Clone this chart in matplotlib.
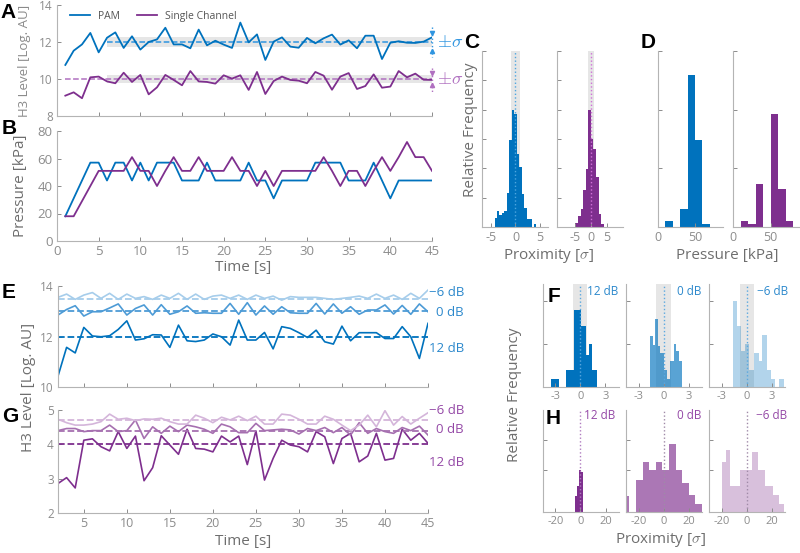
import numpy as np
import matplotlib
matplotlib.use("Agg")
import matplotlib.pyplot as plt

plt.rcParams['font.family'] = ['Open Sans', 'DejaVu Sans']
plt.rcParams['mathtext.fontset'] = 'cm'
plt.rcParams['axes.unicode_minus'] = False

BLUE = '#0072BD'
PURPLE = '#7E2F8E'
BAND = '#e6e6e6'
TICK = '#8c8c8c'
LABEL = '#6e6e6e'

# --- A/B: H3 level and pressure over time ---
t_ab = np.arange(1, 46)
pam_h3 = [10.76, 11.53, 11.87, 12.49, 11.44, 12.23, 12.52, 11.68, 12.31, 11.59,
          12.0, 12.14, 12.77, 11.87, 11.87, 11.66, 12.67, 11.82, 12.07, 11.86,
          11.68, 13.05, 11.98, 12.41, 11.03, 12.02, 12.25, 11.75, 11.69, 12.22,
          11.93, 12.2, 12.4, 11.86, 12.09, 11.66, 12.34, 12.34, 11.08, 11.96,
          12.04, 11.96, 11.95, 12.02, 12.25]
sc_h3 = [9.1, 9.28, 8.96, 10.09, 10.13, 9.87, 9.77, 10.34, 9.84, 10.22,
         9.17, 9.55, 10.22, 9.95, 9.66, 10.43, 9.87, 9.84, 9.75, 10.2,
         10.02, 10.2, 9.41, 10.38, 9.19, 9.89, 10.13, 9.95, 9.91, 9.77,
         10.38, 10.18, 9.42, 10.13, 10.32, 9.46, 9.62, 10.25, 9.53, 9.59,
         10.43, 10.09, 10.29, 9.96, 9.95]
pam_mean, pam_sd = 12.0, 0.28
sc_mean, sc_sd = 10.0, 0.2
pam_kpa = [18, 31, 44, 57, 57, 44, 57, 57, 44, 57,
           44, 57, 57, 57, 44, 44, 44, 57, 44, 44,
           44, 44, 57, 44, 44, 31, 44, 44, 44, 44,
           57, 57, 57, 57, 44, 44, 44, 57, 44, 31,
           44, 44, 44, 44, 44]
sc_kpa = [18, 18, 29, 40, 51, 51, 51, 51, 61, 51,
          51, 40, 51, 61, 51, 51, 61, 51, 51, 51,
          61, 51, 51, 40, 51, 40, 51, 51, 51, 51,
          51, 61, 51, 40, 51, 51, 40, 51, 61, 51,
          61, 72, 61, 61, 51]

# --- C: proximity histograms ---
c_pam_edges = np.arange(-4.25, 4.3, 0.5)
c_pam_freq = [0.016, 0.0275, 0.0205, 0.0245, 0.0275, 0.0585, 0.1485, 0.199, 0.193,
              0.124, 0.1025, 0.0555, 0.033, 0.013, 0.013, 0.0, 0.0045]
c_sc_edges = np.arange(-4.8, 4.1, 0.8)
c_sc_freq = [0.0075, 0.019, 0.03, 0.0625, 0.0985, 0.199, 0.1495, 0.1325, 0.085, 0.0215, 0.0045]

# --- D: pressure histograms ---
d_edges = np.arange(0, 90, 10)
d_pam_freq = [0, 0.02, 0, 0.06, 0.518, 0.298, 0.009, 0]
d_sc_freq = [0, 0.02, 0.0114, 0.148, 0, 0.386, 0.128, 0.02]

# --- E/G: attenuation series ---
t_eg = np.arange(2, 46)
db_labels = ['12 dB', '0 dB', '\u22126 dB']
e_levels = [12.0, 13.0, 13.5]
e_series = [
    [10.43, 11.57, 11.35, 12.36, 12.02, 11.99, 12.03, 12.28, 12.62,
     11.86, 11.91, 12.07, 12.06, 11.57, 12.45, 11.83, 11.8, 11.86, 12.1,
     11.99, 11.66, 12.65, 11.86, 11.86, 12.16, 11.51, 12.39, 12.32, 12.15,
     11.96, 12.25, 11.79, 11.7, 12.41, 11.83, 12.15, 12.15, 12.15, 11.92,
     11.92, 12.39, 11.99, 11.13, 12.52],
    [12.85, 13.07, 13.22, 12.81, 12.98, 12.98, 13.13, 13.29, 12.85,
     13.11, 13.25, 12.85, 13.26, 12.88, 12.98, 13.21, 12.92, 12.94, 12.92,
     12.92, 13.31, 12.88, 13.34, 12.85, 13.21, 12.88, 13.18, 12.94, 12.92,
     12.92, 13.31, 12.89, 13.29, 12.92, 13.18, 12.88, 13.05, 13.05, 13.25,
     12.89, 13.23, 12.88, 13.29, 12.98],
    [13.55, 13.68, 13.47, 13.64, 13.74, 13.51, 13.71, 13.47, 13.68,
     13.51, 13.58, 13.47, 13.64, 13.51, 13.71, 13.47, 13.68, 13.47, 13.6,
     13.64, 13.51, 13.64, 13.47, 13.64, 13.51, 13.6, 13.44, 13.58, 13.55,
     13.55, 13.55, 13.51, 13.47, 13.51, 13.55, 13.6, 13.51, 13.68, 13.51,
     13.64, 13.47, 13.71, 13.51, 13.84],
]
g_levels = [4.0, 4.4, 4.7]
g_series = [
    [2.86, 3.03, 2.73, 4.12, 4.16, 3.93, 3.81, 4.37, 3.88,
     4.24, 2.94, 3.32, 4.25, 3.98, 3.71, 4.44, 3.88, 3.86, 3.78,
     4.24, 4.07, 4.24, 3.41, 4.39, 2.96, 3.59, 4.12, 3.98, 3.93,
     3.78, 4.37, 4.22, 3.44, 4.17, 4.32, 3.49, 3.66, 4.32, 3.54,
     3.59, 4.44, 4.12, 4.32, 4.03],
    [4.4, 4.46, 4.46, 4.37, 4.4, 4.4, 4.56, 4.37, 4.4,
     4.71, 4.17, 4.51, 4.32, 4.53, 4.37, 4.56, 4.51, 4.44, 4.32,
     4.59, 4.51, 4.34, 4.34, 4.61, 4.4, 4.42, 4.44, 4.42, 4.3,
     4.46, 4.4, 4.49, 4.34, 4.49, 4.27, 4.63, 4.32, 4.46, 4.37,
     4.32, 4.49, 4.4, 4.53, 4.27],
    [4.73, 4.63, 4.56, 4.56, 4.59, 4.66, 4.88, 4.73, 4.76,
     4.69, 4.74, 4.73, 4.76, 4.66, 4.59, 4.59, 4.85, 4.76, 4.63,
     4.79, 4.71, 4.82, 4.69, 4.82, 4.59, 4.59, 4.88, 4.85, 4.73,
     4.59, 4.59, 4.82, 4.73, 4.56, 4.4, 4.56, 4.85, 4.51, 4.98,
     4.56, 4.81, 4.59, 4.76, 4.92],
]
e_colors = ['#0072BD', '#4d9bd6', '#a6cdeb']
g_colors = ['#7E2F8E', '#a670b0', '#d4b5da']
alphas = [1.0, 0.65, 0.3]

# --- F/H: proximity histograms per attenuation ---
f_edges = [[-3.5, -2.6, -1.7, -0.8, 0.1, 0.65, 1.0, 1.4, 2.0],
           [-1.68, -1.28, -1.0, -0.72, -0.4, 0.0, 0.4, 0.8, 1.2, 1.52, 1.8, 2.2],
           [-1.7, -1.2, -0.7, -0.2, 0.3, 0.85, 1.4, 1.8, 2.4, 2.9, 3.4, 3.9, 4.45]]
f_freq = [[0.19, 0, 0.4, 1.8, 1.42, 0.75, 1.0, 0.4],
          [1.18, 0.99, 1.59, 0.95, 0.79, 0.4, 0.19, 0.6, 1.0, 0.83, 0.6],
          [2.0, 1.42, 0.85, 1.0, 0.4, 0.79, 0.6, 1.22, 0.4, 0.19, 0, 0.19]]
f_sd = 0.85
h_edges = [[-4.5, -2.8, -1.2, 0.4, 2.2],
           [-30, -27.5, -22, -16.5, -11.5, -6.5, -1, 4.5, 9.5, 14.5, 20, 25, 30.5],
           [-20, -16.8, -13.3, -5.9, 0, 4, 8.5, 14.7, 20.5, 25.3, 29.3]]
h_freq = [[0.15, 0.25, 0.41, 0.39],
          [0.15, 0, 0.31, 0.49, 0.41, 0.49, 0.41, 0.67, 0.41, 0.28, 0.16, 0.08],
          [0.49, 0.61, 0.25, 0.41, 0.41, 0.59, 0.41, 0.25, 0.16, 0.075]]

W, H = 800, 553
fig = plt.figure(figsize=(8, 5.53), dpi=100)


def add_ax(left, top, right, bottom):
    return fig.add_axes([left / W, 1 - bottom / H, (right - left) / W, (bottom - top) / H])


def style(ax, size=8.5):
    for s in ['top', 'right']:
        ax.spines[s].set_visible(False)
    for s in ['left', 'bottom']:
        ax.spines[s].set_color('#b4b4b4')
        ax.spines[s].set_linewidth(0.8)
    ax.tick_params(direction='in', colors=TICK, labelsize=size, length=3, width=0.7, pad=3)


def letter(x, y, s):
    fig.text(x / W, 1 - y / H, s, fontsize=15, fontweight='bold', family='Liberation Sans',
             ha='center', va='center')


def ftext(x, y, s, rot=0, size=11):
    fig.text(x / W, 1 - y / H, s, fontsize=size, color=LABEL, rotation=rot, ha='center', va='center')


# Panel A
axA = add_ax(57, 5, 432, 116)
style(axA)
axA.fill_between([6, 45], pam_mean - pam_sd, pam_mean + pam_sd, color=BAND, lw=0, zorder=0)
axA.fill_between([6, 45], sc_mean - sc_sd, sc_mean + sc_sd, color=BAND, lw=0, zorder=0)
axA.plot([6, 45], [pam_mean] * 2, ls='--', color='#2f95e0', lw=1.1)
axA.plot([1, 45], [sc_mean] * 2, ls='--', color='#b070c0', lw=1.1)
axA.plot(t_ab, pam_h3, color=BLUE, lw=1.3, label='PAM')
axA.plot(t_ab, sc_h3, color=PURPLE, lw=1.3, label='Single Channel')
for m, sd, c, y0, y1 in [(pam_mean, 0.47, '#2f95e0', 12.83, 11.2), (sc_mean, 0.34, '#b070c0', 10.58, 9.32)]:
    axA.plot([45, 45], [y0, y1], ls=':', color=c, lw=1, clip_on=False)
    axA.plot(45, m + sd, marker='v', ms=3, color=c, clip_on=False)
    axA.plot(45, m - sd, marker='^', ms=3, color=c, clip_on=False)
    axA.text(45.6, m, r'$\pm\sigma$', color=c, fontsize=13, va='center', ha='left')
axA.set_xlim(0, 45)
axA.set_ylim(8, 14)
axA.set_yticks([8, 10, 12, 14])
axA.set_xticks(np.arange(0, 46, 5))
axA.set_xticklabels([])
axA.set_ylabel('H3 Level [Log. AU]', fontsize=9.5, color='#8a8a8a')
axA.yaxis.set_label_coords(-0.069, 0.5)
axA.legend(loc='upper left', bbox_to_anchor=(0.01, 1.03), ncol=2, frameon=False, fontsize=7.5,
           handlelength=1.9, columnspacing=1.6, labelcolor='#555555')

# Panel B
axB = add_ax(57, 131, 432, 241)
style(axB)
axB.plot(t_ab, pam_kpa, color=BLUE, lw=1.3)
axB.plot(t_ab, sc_kpa, color=PURPLE, lw=1.3)
axB.set_xlim(0, 45)
axB.set_ylim(0, 80)
axB.set_xticks(np.arange(0, 46, 5))
axB.set_yticks(np.arange(0, 81, 20))
axB.tick_params(labelsize=9.5)
axB.set_ylabel('Pressure [kPa]', fontsize=11, color=LABEL)
axB.yaxis.set_label_coords(-0.077, 0.5)
ftext(243, 268, 'Time [s]')

# Panel C
for (l, r), edges, freq, c, dc, xl in [((482, 548), c_pam_edges, c_pam_freq, BLUE, '#4da6e0', (-6.8, 6.6)),
                                       ((557, 623), c_sc_edges, c_sc_freq, PURPLE, '#d070d8', (-10.5, 10))]:
    ax = add_ax(l, 51, r, 227)
    style(ax, 9)
    ax.axvspan(-1, 1, color=BAND, lw=0, zorder=0)
    ax.stairs(freq, edges, fill=True, color=c, lw=0, zorder=1)
    ax.axvline(0, ls=':', color=dc, lw=1, zorder=3)
    ax.set_xlim(*xl)
    ax.set_ylim(0, 0.3)
    ax.set_yticks(np.arange(0, 0.31, 0.05))
    ax.set_yticklabels([])
    ax.set_xticks([-5, 0, 5])
ftext(470, 130, 'Relative Frequency', rot=90)
ftext(548, 256, r'Proximity [$\sigma$]')

# Panel D
for (l, r), freq, c in [((658, 723), d_pam_freq, BLUE), ((733, 799), d_sc_freq, PURPLE)]:
    ax = add_ax(l, 51, r, 227)
    style(ax, 9)
    ax.stairs(freq, d_edges, fill=True, color=c, lw=0)
    ax.set_xlim(0, 88)
    ax.set_ylim(0, 0.6)
    ax.set_yticks([0, 0.2, 0.4, 0.6])
    ax.set_yticklabels([])
    ax.set_xticks([0, 50])
ftext(727, 256, 'Pressure [kPa]')

# Panels E and G
for (top, bot), series, levels, cols, lab_y, ylim, yt, txtc in [
        ((286, 387), e_series, e_levels, e_colors, [11.54, 12.97, 13.76], (10, 14), [10, 12, 14], '#2b88cc'),
        ((410, 513), g_series, g_levels, g_colors, [3.48, 4.42, 5.0], (2, 5), [2, 3, 4, 5], '#9448a6')]:
    ax = add_ax(58, top, 428, bot)
    style(ax, 8.5)
    for s, lev, c, ly, lab in zip(series, levels, cols, lab_y, db_labels):
        ax.plot([2, 45], [lev, lev], ls='--', color=c, lw=1.3)
        ax.plot(t_eg, s, color=c, lw=1.2)
        ax.text(1.097, ly, lab, transform=ax.get_yaxis_transform(), color=txtc, fontsize=9.5,
                ha='right', va='center')
    ax.set_xlim(2, 45)
    ax.set_ylim(*ylim)
    ax.set_yticks(yt)
    ax.set_xticks(np.arange(5, 46, 5))
    if top == 286:
        ax.set_xticklabels([])
    else:
        ax.tick_params(axis='x', labelsize=9)
ftext(29, 387, 'H3 Level [Log. AU]', rot=90)
ftext(243, 541, 'Time [s]')

# Panels F and H
f_lefts = [542.7, 626, 709.3]
for i in range(3):
    l = f_lefts[i]
    axF = add_ax(l, 284, l + 76, 387)
    style(axF, 8)
    axF.axvspan(-f_sd, f_sd, color=BAND, lw=0, zorder=0)
    axF.stairs(f_freq[i], f_edges[i], fill=True, color=BLUE, alpha=alphas[i], lw=0, zorder=1)
    axF.axvline(0, ls=':', color='#5aa8e0', lw=1, zorder=3)
    axF.set_xlim(-4.5, 4.6)
    axF.set_ylim(0, 2.4)
    axF.set_yticks([0, 1, 2])
    axF.set_yticklabels([])
    axF.set_xticks([-3, 0, 3])
    axF.text(0.99 if i < 2 else 1.04, 0.925, db_labels[i], transform=axF.transAxes, color='#2b88cc',
             fontsize=8.5, ha='right', va='center')

    axH = add_ax(l, 410, l + 76, 511.7)
    style(axH, 8)
    axH.stairs(h_freq[i], h_edges[i], fill=True, color=PURPLE, alpha=alphas[i], lw=0, zorder=1)
    axH.axvline(0, ls=':', color='#b07cc0' if i == 0 else '#a08aa8', lw=1, zorder=3)
    axH.set_xlim(-30, 30.5)
    axH.set_ylim(0, 1)
    axH.set_yticks([0, 0.41, 0.705])
    axH.set_yticklabels([])
    axH.set_xticks([-20, 0, 20])
    axH.text(0.95 if i == 0 else (0.99 if i == 1 else 1.02), 0.95, db_labels[i], transform=axH.transAxes,
             color='#9448a6', fontsize=8.5, ha='right', va='center')
ftext(515, 395, 'Relative Frequency', rot=90)
ftext(660, 540, r'Proximity [$\sigma$]')

letter(8, 12, 'A')
letter(9, 128, 'B')
letter(472, 42, 'C')
letter(648, 42, 'D')
letter(9, 292, 'E')
letter(10, 416, 'G')
letter(554, 297, 'F')
letter(553, 418, 'H')

fig.savefig('out.png', dpi=100, facecolor='white')
